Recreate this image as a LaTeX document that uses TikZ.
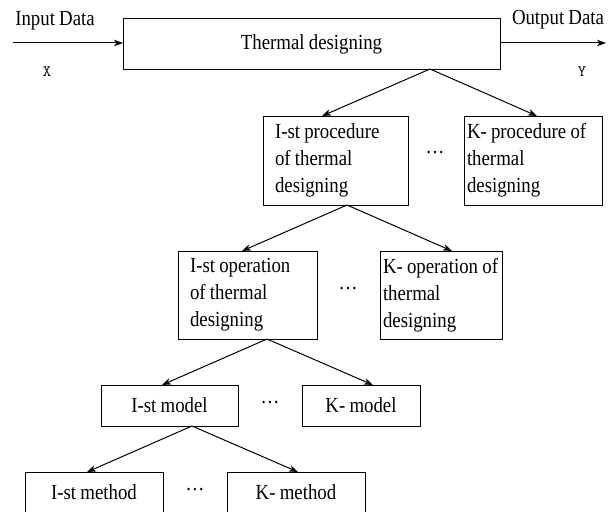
\documentclass[tikz,border=0pt]{standalone}
\usepackage{fontspec}
\setmainfont{Liberation Serif}[FakeStretch=0.875, WordSpace=0.9]
\usetikzlibrary{arrows.meta,calc}

% plain interword spacing inside left-aligned node text
\newcommand\natspace{\spaceskip=0pt\xspaceskip=0pt\relax}

\tikzset{
  txt/.style={font=\fontsize{21.5}{27}\selectfont},
  box/.style={draw, line width=1pt, outer sep=0pt, inner ysep=0pt, txt},
  leftbox/.style={box, align=left},
  midbox/.style={box, align=center},
  arr/.style={line width=1pt, -{Stealth[length=9pt,width=6.5pt,inset=2.5pt]}},
  dotsnode/.style={inner sep=0pt, txt},
  varlabel/.style={inner sep=0pt, font=\ttfamily\fontsize{16}{16}\selectfont},
}

\begin{document}
\begin{tikzpicture}[x=1pt, y=-1pt]
  \useasboundingbox (0,0) rectangle (612,511);

  % top level block with its inputs and outputs
  \node[midbox, minimum width=377pt, minimum height=50pt] (main) at (311.5,44) {Thermal designing};
  \node[txt, anchor=base, inner sep=0pt] (inlab) at (55,26) {Input Data};
  \node[txt, anchor=base, inner sep=0pt] (outlab) at (558,25) {Output Data};
  \node[varlabel, anchor=base] (xin) at (47,76) {X};
  \node[varlabel, anchor=base] (yout) at (582,76) {Y};
  \coordinate (instart) at (13,43);
  \coordinate (outend) at (606,43);
  \draw[arr] (instart) -- (instart -| main.west);
  \draw[arr] (outend -| main.east) -- (outend);

  % procedures
  \node[leftbox, minimum height=89pt, text width=121pt, inner xsep=12pt] (proc1) at (335.5,160.5)
    {\natspace\mbox{I-st procedure}\\ \mbox{of thermal}\\ \mbox{designing}};
  \node[leftbox, minimum height=89pt, text width=132pt, inner xsep=3pt] (procK) at (533,160.5)
    {\natspace\mbox{K- procedure of}\\ \mbox{thermal}\\ \mbox{designing}};
  \node[dotsnode] (dots1) at (435,153) {\ldots};

  % operations
  \node[leftbox, minimum height=88pt, text width=115pt, inner xsep=12pt] (op1) at (247.5,295)
    {\natspace\mbox{I-st operation}\\ \mbox{of thermal}\\ \mbox{designing}};
  \node[leftbox, minimum height=88pt, text width=116pt, inner xsep=3pt] (opK) at (441,295)
    {\natspace\mbox{K- operation of}\\ \mbox{thermal}\\ \mbox{designing}};
  \node[dotsnode] (dots2) at (348,289) {\ldots};

  % models
  \node[midbox, minimum width=137pt, minimum height=41pt] (model1) at (169.5,405.5) {I-st model};
  \node[midbox, minimum width=118pt, minimum height=41pt] (modelK) at (361,405.5) {K- model};
  \node[dotsnode] (dots3) at (270,403) {\ldots};

  % methods
  \node[midbox, minimum width=138pt, minimum height=41pt] (method1) at (94,492.5) {I-st method};
  \node[midbox, minimum width=138pt, minimum height=41pt] (methodK) at (296,492.5) {K- method};
  \node[dotsnode] (dots4) at (195,490) {\ldots};

  % branching connectors
  \coordinate (mainout) at ($(main.south west)+(307,0)$);
  \draw[arr] (mainout) -- ($(proc1.north west)+(59,0)$);
  \draw[arr] (mainout) -- ($(procK.north west)+(73,0)$);

  \coordinate (procout) at ($(proc1.south west)+(84,0)$);
  \draw[arr] (procout) -- ($(op1.north west)+(64,0)$);
  \draw[arr] (procout) -- ($(opK.north west)+(72,0)$);

  \coordinate (opout) at ($(op1.south west)+(89,0)$);
  \draw[arr] (opout) -- ($(model1.north west)+(61,0)$);
  \draw[arr] (opout) -- ($(modelK.north west)+(71,0)$);

  \coordinate (modelout) at ($(model1.south west)+(91,0)$);
  \draw[arr] (modelout) -- ($(method1.north west)+(62,0)$);
  \draw[arr] (modelout) -- ($(methodK.north west)+(71,0)$);
\end{tikzpicture}
\end{document}
